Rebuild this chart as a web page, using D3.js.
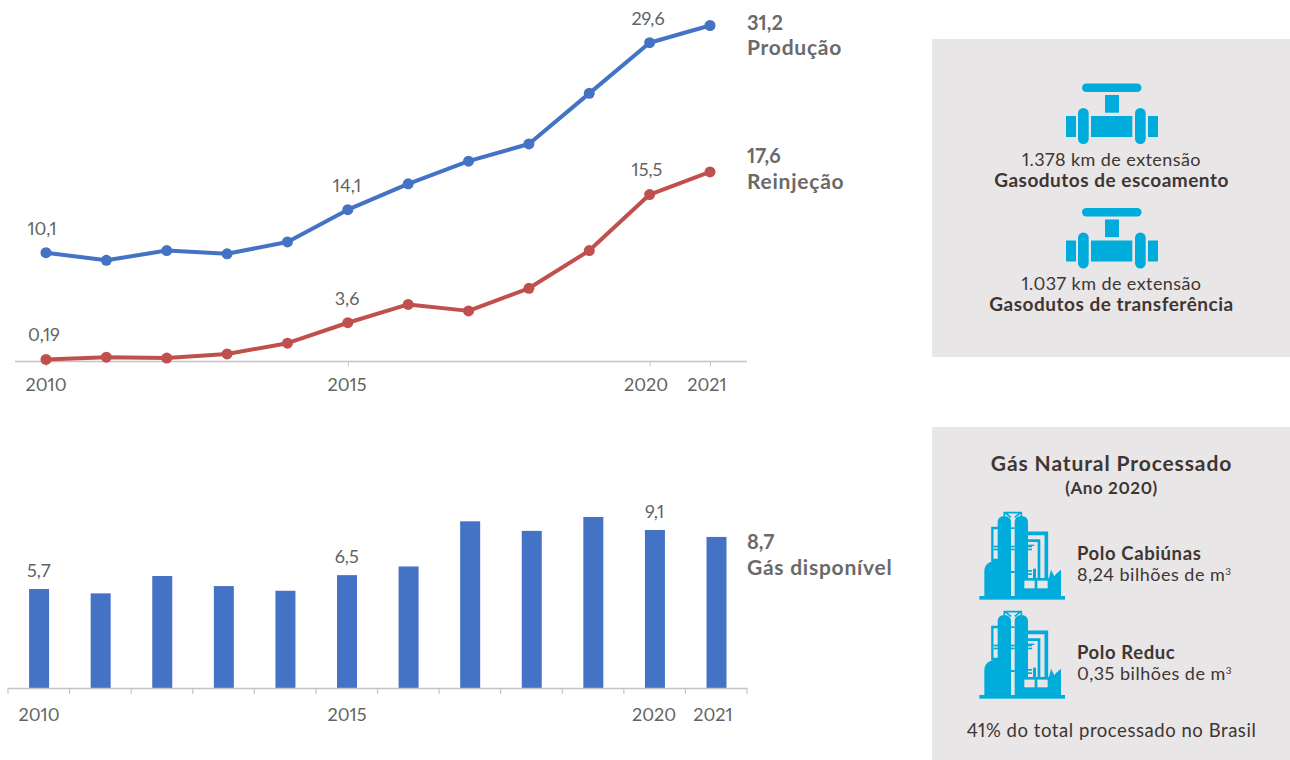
<!DOCTYPE html>
<html lang="pt-BR">
<head>
<meta charset="utf-8">
<style>
html,body{margin:0;padding:0;background:#fff}
svg{display:block}
text{font-family:Lato,"Noto Sans",sans-serif;font-variant-numeric:proportional-nums;font-feature-settings:"pnum" 1}
</style>
<script src="https://cdn.jsdelivr.net/npm/d3@7/dist/d3.min.js"></script>
</head>
<body>
<svg id="chart" width="1290" height="760"></svg>
<script>
const years = [2010,2011,2012,2013,2014,2015,2016,2017,2018,2019,2020,2021];
const producao = [10.1,9.4,10.3,10.0,11.1,14.1,16.5,18.6,20.2,24.9,29.6,31.2];
const reinjecao = [0.19,0.4,0.32,0.7,1.7,3.6,5.3,4.7,6.8,10.3,15.5,17.6];
const gasDisponivel = [5.7,5.45,6.45,5.87,5.6,6.5,7.0,9.6,9.05,9.85,9.1,8.7];
const labelledYears = [2010,2015,2020,2021];
const fmt = v => String(v).replace(".", ",");

const BLUE="#4472c4", RED="#c0504d", AXIS="#c4c4c4", GREY="#636363", CAPTION="#6a6a6a", DARK="#3f3532", PANEL="#e8e6e7", CYAN="#00acdb";
const svg = d3.select("#chart");

function label(parent,x,y,t,o={}){
  return parent.append("text").attr("x",x).attr("y",y)
    .attr("text-anchor",o.anchor||"middle").attr("fill",o.fill||GREY)
    .style("font-size",(o.size||18)+"px").style("font-weight",o.weight||400)
    .style("letter-spacing",(o.ls||0)+"px").text(t);
}

// Upper chart: production and reinjection lines
const xLine = d3.scaleLinear().domain([2010,2021]).range([46,710]);
const yLine = d3.scaleLinear().domain([0,31.2]).range([361.5,25.5]);
const top_ = svg.append("g");

const axisTop = top_.append("g").attr("transform","translate(0,361.5)")
  .call(d3.axisBottom(xLine).tickValues(labelledYears).tickFormat("").tickSize(5));
axisTop.select(".domain").remove();
axisTop.insert("line",":first-child").attr("x1",15).attr("x2",747).attr("stroke",AXIS).attr("stroke-width",1.5);
axisTop.selectAll(".tick line").attr("stroke",AXIS);
const topYearX = {2010:46,2015:347,2020:646,2021:707};
labelledYears.forEach(yr=>label(top_,topYearX[yr],391,yr));

const line = d3.line().x((d,i)=>xLine(years[i])).y(d=>yLine(d));
[[producao,BLUE],[reinjecao,RED]].forEach(([vals,col])=>{
  top_.append("path").attr("d",line(vals)).attr("fill","none").attr("stroke",col).attr("stroke-width",4).attr("stroke-linejoin","round");
  top_.selectAll(null).data(vals).join("circle")
    .attr("cx",(d,i)=>xLine(years[i])).attr("cy",d=>yLine(d)).attr("r",5.5).attr("fill",col);
});

// Values printed over the lines
const pointLabels = [[2010,producao,42,-18],[2015,producao,347,-18],[2020,producao,648,-18],
                     [2010,reinjecao,44,-18],[2015,reinjecao,347,-18],[2020,reinjecao,647,-19]];
pointLabels.forEach(([yr,vals,lx,dy])=>{
  const v = vals[years.indexOf(yr)];
  label(top_,lx,yLine(v)+dy,fmt(v));
});

// Lower chart: available gas bars
const xBar = d3.scaleBand().domain(years).range([8,747]);
const yBar = d3.scaleLinear().domain([0,9.1]).range([688,530]);
const bottom = svg.append("g");
bottom.selectAll("rect").data(gasDisponivel).join("rect")
  .attr("x",(d,i)=>xBar(years[i])+xBar.bandwidth()/2-10+0.3).attr("width",20)
  .attr("y",d=>yBar(d)).attr("height",d=>yBar(0)-yBar(d)).attr("fill",BLUE);
bottom.append("line").attr("x1",8).attr("x2",747).attr("y1",688.5).attr("y2",688.5).attr("stroke",AXIS).attr("stroke-width",1.5);
bottom.selectAll(".edge").data(d3.range(years.length+1)).join("line").attr("class","edge")
  .attr("x1",i=>8+i*xBar.bandwidth()).attr("x2",i=>8+i*xBar.bandwidth())
  .attr("y1",688).attr("y2",694).attr("stroke",AXIS).attr("stroke-width",1.2);
const bottomYearX = {2010:39,2015:347,2020:654,2021:713};
labelledYears.forEach(yr=>label(bottom,bottomYearX[yr],721,yr));
[2010,2015,2020].forEach(yr=>{
  const v = gasDisponivel[years.indexOf(yr)];
  label(bottom,xBar(yr)+xBar.bandwidth()/2,yBar(v)-12,fmt(v));
});

// End-of-series captions
const captions = [[31.2,"Produção",30,55],[17.6,"Reinjeção",163,189],[8.7,"Gás disponível",549,575]];
captions.forEach(([v,name,y1,y2])=>{
  label(svg,747,y1,fmt(v),{anchor:"start",size:20,weight:700,fill:CAPTION});
  label(svg,747,y2,name,{anchor:"start",size:21,weight:700,fill:CAPTION,ls:0.75});
});

// Side panels
svg.append("rect").attr("x",932).attr("y",39).attr("width",358).attr("height",318).attr("fill",PANEL);
svg.append("rect").attr("x",932).attr("y",427).attr("width",358).attr("height",333).attr("fill",PANEL);

function valve(g){
  g.attr("fill",CYAN);
  const r=(x,y,w,h,rx=0)=>g.append("rect").attr("x",x).attr("y",y).attr("width",w).attr("height",h).attr("rx",rx);
  r(1082,83.5,59.5,8.5,4.2); r(1105,95,14,17.7);
  r(1066,116,10,21); r(1078,108,10.7,36,5.3); r(1091,116,41.3,21);
  r(1135,108,10.7,36,5.3); r(1148,116,10,21);
}
valve(svg.append("g"));
valve(svg.append("g").attr("transform","translate(0,124.5)"));

const panelText = (y,t,o)=>label(svg,1111.5,y,t,Object.assign({fill:DARK},o));
panelText(166,"1.378 km de extensão",{ls:0.42});
panelText(187,"Gasodutos de escoamento",{size:19,weight:700,ls:0.5});
panelText(290,"1.037 km de extensão",{ls:0.42});
panelText(311,"Gasodutos de transferência",{size:19,weight:700,ls:0.5});
panelText(471,"Gás Natural Processado",{size:21,weight:700,ls:0.9});
panelText(494,"(Ano 2020)",{size:17,weight:700,ls:0.6});
panelText(737,"41% do total processado no Brasil",{size:18.5,ls:0.55});

// Refinery pictogram, laid out on a grid three times finer than the page
function refinery(g){
  g.attr("fill",CYAN);
  const r=(x,y,w,h,f)=>g.append("rect").attr("x",x).attr("y",y).attr("width",w).attr("height",h).attr("fill",f||CYAN);
  const outline=(d,w)=>g.append("path").attr("d",d).attr("fill","none").attr("stroke",CYAN).attr("stroke-width",w);
  r(13,264,257,11);
  g.append("path").attr("d","M28 264V190Q28 160 70 157V264Z");
  g.append("path").attr("d","M68 264V44Q68 24 88 24Q108 24 108 44V264Z");
  g.append("path").attr("d","M119 264V44Q119 24 139 24Q159 24 159 44V264Z");
  outline("M88 26V14H139V26M90 14L108 28M137 14L119 28",5);
  outline("M69 60H52V156H69",7);
  // rungs across the columns
  r(56,113,14,5); r(56,122,14,5); r(108,113,11,5); r(108,122,11,5);
  r(158,113,13,5); r(158,122,13,5); r(108,189,11,6); r(158,186,13,5); r(158,196,13,5);
  r(108,58,11,5);
  // pipes running down the right side
  outline("M158 76H214V212",11);
  outline("M158 98H192V212",8);
  outline("M158 112H178",4);
  r(174,182,9,30);
  // factory hall with saw-tooth roof
  g.append("path").attr("d","M140 264V210H222L228 185L238 205L243 198L258 185V264Z");
  r(148,218,31,23,PANEL); r(187,218,31,23,PANEL);
}
refinery(svg.append("g").attr("transform","translate(975,508) scale(0.3333)"));
refinery(svg.append("g").attr("transform","translate(975,607) scale(0.3333)"));

function polo(y,name,val){
  label(svg,1077,y,name,{anchor:"start",size:18.5,weight:700,fill:DARK,ls:0.6});
  const t=label(svg,1077,y+21,val,{anchor:"start",fill:DARK,ls:0.5});
  t.append("tspan").attr("dy",-6).style("font-size","10px").text("3");
}
polo(560,"Polo Cabiúnas","8,24 bilhões de m");
polo(659,"Polo Reduc","0,35 bilhões de m");
</script>
</body>
</html>
